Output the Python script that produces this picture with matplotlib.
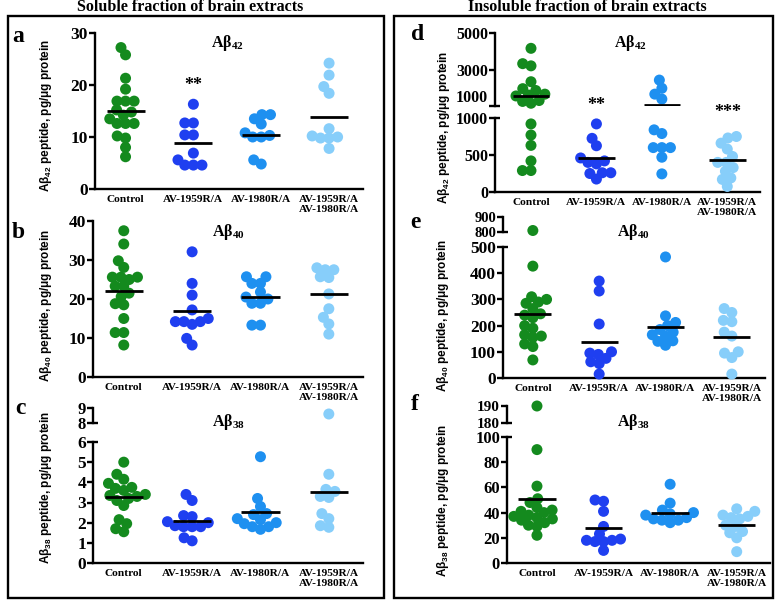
import matplotlib
matplotlib.use('Agg')
import matplotlib.pyplot as plt
from matplotlib.patches import Rectangle
import numpy as np

plt.rcParams['font.family'] = ['Liberation Serif', 'DejaVu Serif']
plt.rcParams['font.weight'] = 'bold'
plt.rcParams['mathtext.fontset'] = 'custom'
plt.rcParams['mathtext.bf'] = 'Liberation Serif:bold'
plt.rcParams['mathtext.rm'] = 'Liberation Serif:bold'
plt.rcParams['mathtext.sf'] = 'Liberation Sans:bold'

groups = ['Control', 'AV-1959R/A', 'AV-1980R/A', 'AV-1959R/A\nAV-1980R/A']
colors = ['#148a1e', '#1f3ff0', '#1e90f0', '#87cefa']

# a: soluble Abeta42
a_ctrl = [27.2, 25.8, 21.3, 19.2, 16.9, 16.9, 16.9, 15.2, 14.8, 14.2, 13.5, 12.6, 12.6, 12.6, 10.2, 9.8, 8.0, 6.2]
a_1959 = [16.3, 12.7, 12.7, 10.4, 10.4, 6.9, 5.6, 4.6, 4.6, 4.6]
a_1980 = [14.3, 14.3, 13.5, 12.5, 10.8, 10.3, 10.0, 10.0, 5.6, 4.8]
a_both = [24.2, 21.9, 19.7, 18.4, 11.6, 10.0, 9.8, 9.8, 10.2, 7.8]
a_mean = [15.0, 8.8, 10.4, 13.8]

# b: soluble Abeta40
b_ctrl = [37.5, 34.1, 29.8, 28.1, 25.6, 25.6, 25.6, 25.0, 23.3, 23.3, 21.5, 20.6, 18.8, 18.5, 15.0, 11.4, 11.4, 8.2]
b_1959 = [32.1, 24.0, 21.0, 17.2, 15.0, 14.2, 14.2, 14.2, 13.5, 9.9, 8.2]
b_1980 = [25.7, 25.7, 24.0, 24.0, 21.8, 20.5, 20.0, 18.9, 18.9, 13.3, 13.3]
b_both = [28.0, 27.5, 27.5, 25.7, 25.5, 21.3, 17.5, 15.3, 13.6, 11.0]
b_mean = [22.0, 17.0, 20.4, 21.2]

# c: soluble Abeta38
c_ctrl = [5.0, 4.4, 4.15, 3.95, 3.75, 3.7, 3.6, 3.4, 3.35, 3.3, 3.2, 3.1, 2.85, 2.15, 1.95, 1.7, 1.55]
c_1959 = [3.4, 3.1, 2.35, 2.3, 2.05, 2.0, 1.85, 1.8, 1.8, 1.8, 1.25, 1.1]
c_1980 = [5.27, 3.2, 2.8, 2.45, 2.4, 2.2, 2.15, 2.0, 1.95, 1.8, 1.8, 1.67]
c_both = [8.6, 4.4, 3.65, 3.55, 3.3, 3.25, 2.45, 2.2, 1.85, 1.77]
c_mean = [3.27, 2.08, 2.55, 3.53]

# d: insoluble Abeta42
d_ctrl = [4160, 3320, 3200, 2330, 1950, 1850, 1650, 1600, 1550, 1300, 1250, 1150, 920, 770, 630, 420, 290, 290]
d_1959 = [920, 725, 625, 460, 420, 400, 380, 260, 260, 250, 175]
d_1980 = [2420, 1970, 1650, 1380, 840, 790, 600, 600, 600, 470, 245]
d_both = [750, 730, 660, 580, 480, 400, 400, 330, 280, 190, 170, 75]
d_mean = [1564, 464, 1055, 432]

# e: insoluble Abeta40
e_ctrl = [810, 427, 310, 300, 290, 285, 265, 245, 240, 230, 200, 190, 165, 160, 155, 130, 120, 69]
e_1959 = [370, 332, 206, 100, 95, 90, 75, 62, 55, 15]
e_1980 = [462, 237, 212, 200, 185, 175, 165, 160, 142, 140, 125]
e_both = [265, 250, 220, 215, 175, 160, 100, 95, 78, 15]
e_mean = [245, 138, 195, 156]

# f: insoluble Abeta38
f_ctrl = [190, 90, 61, 51, 48, 44, 42, 41, 40, 38, 37, 36, 35, 34, 32, 30, 29, 22]
f_1959 = [50, 49, 41, 29, 23, 19, 18, 18, 17, 17, 10]
f_1980 = [62.5, 47.5, 42, 40, 39, 38, 36, 35, 34, 34, 32]
f_both = [43, 41, 38, 37, 36, 35, 30, 29, 25, 24, 20, 9]
f_mean = [50.5, 28, 40, 30]

W, H = 780, 600
DOT = 11  # dot diameter in pixels
GAP = 0.78  # dots may overlap a little, as in the original
fig = plt.figure(figsize=(W / 100, H / 100), dpi=100)


def px_ax(left, right, top, bottom):
    return fig.add_axes([left / W, 1 - bottom / H, (right - left) / W, (bottom - top) / H])


def style(ax, lim, ticks, x0, show_x, tsize):
    ax.set_xlim(x0, 3.5)
    ax.set_ylim(*lim)
    ax.set_yticks(ticks)
    ax.patch.set_visible(False)
    for s in ('top', 'right'):
        ax.spines[s].set_visible(False)
    ax.spines['left'].set_linewidth(1.7)
    ax.spines['bottom'].set_linewidth(1.7)
    ax.tick_params(axis='y', length=4, width=1.7, labelsize=tsize, pad=1)
    if show_x:
        ax.set_xticks(range(4))
        ax.set_xticklabels(groups, fontsize=8.2, linespacing=1.25)
        ax.tick_params(axis='x', length=0, pad=4)
    else:
        ax.spines['bottom'].set_visible(False)
        ax.set_xticks([])


def break_tick(ax, yval):
    w = ax.get_position().width * W
    ax.plot([0, 5 / w], [yval, yval], transform=ax.get_yaxis_transform(),
            color='k', lw=1.7, clip_on=False, solid_capstyle='butt')


def swarm(ys, d):
    xs = np.zeros(len(ys))
    placed = []
    for i in np.argsort(ys):
        y = ys[i]
        cands = [0.0]
        for px, py in placed:
            dy = y - py
            if abs(dy) < d:
                dx = np.sqrt(d * d - dy * dy)
                cands += [px - dx, px + dx]
        cands.sort(key=abs)
        for c in cands:
            if all((c - px) ** 2 + (y - py) ** 2 >= d * d - 1e-6 for px, py in placed):
                break
        xs[i] = c
        placed.append((c, y))
    return xs


def panel(letter, sub, values, means, left, right, x0, lower, upper=None,
          title_xy=None, letter_xy=None, ylab_xy=None, stars=(), tsize=12.5,
          lift=False):
    lo_top, lo_bot, lo_lim, lo_ticks = lower
    ax_lo = px_ax(left, right, lo_top, lo_bot)
    style(ax_lo, lo_lim, lo_ticks, x0, True, tsize)
    ax_hi = None
    if upper:
        hi_top, hi_bot, hi_lim, hi_ticks, hi_size = upper
        ax_hi = px_ax(left, right, hi_top, hi_bot)
        style(ax_hi, hi_lim, hi_ticks, x0, False, hi_size)
        break_tick(ax_lo, lo_lim[1])
        break_tick(ax_hi, hi_lim[0])
        if lift:
            # keep the two stacked labels at the break apart
            ax_hi.get_yticklabels()[0].set_va('bottom')

    def which(v):
        return ax_hi if (ax_hi is not None and v > lo_lim[1]) else ax_lo

    step = ax_lo.transData.transform((1, 0))[0] - ax_lo.transData.transform((0, 0))[0]
    for i, vals in enumerate(values):
        vals = np.asarray(vals, float)
        axs = [which(v) for v in vals]
        ys = np.array([a.transData.transform((i, v))[1] for a, v in zip(axs, vals)])
        offs = swarm(ys, DOT * GAP) / step
        for a in set(axs):
            m = np.array([b is a for b in axs])
            a.scatter(i + offs[m], vals[m], s=(DOT * 0.72) ** 2, color=colors[i],
                      edgecolors='none', clip_on=False, zorder=3)
        a = which(means[i])
        a.plot([i - 0.28, i + 0.28], [means[i], means[i]], color='k', lw=2,
               solid_capstyle='butt', zorder=4)

    for x, y, s in stars:
        ax_lo.text(x, y, s, ha='center', va='center', fontsize=13, clip_on=False)

    fig.text(title_xy[0] / W, 1 - title_xy[1] / H, 'Aβ$_{\\mathbf{%s}}$' % sub,
             ha='center', va='center', fontsize=11.5)
    fig.text(letter_xy[0] / W, 1 - letter_xy[1] / H, letter,
             ha='center', va='center', fontsize=17)
    fig.text(ylab_xy[0] / W, 1 - ylab_xy[1] / H,
             'Aβ$_{\\mathsf{%s}}$ peptide, pg/μg protein' % sub,
             rotation=90, ha='center', va='center', fontsize=8.5,
             family=['Liberation Sans', 'DejaVu Sans'], weight='bold')


panel('a', '42', [a_ctrl, a_1959, a_1980, a_both], a_mean, 95, 363, -0.45,
      (33, 189, (0, 30), [0, 10, 20, 30]),
      title_xy=(227, 43), letter_xy=(18, 36), ylab_xy=(46, 115),
      stars=[(1, 20, '**')])
panel('b', '40', [b_ctrl, b_1959, b_1980, b_both], b_mean, 93, 363, -0.45,
      (221, 377, (0, 40), [0, 10, 20, 30, 40]),
      title_xy=(228, 232), letter_xy=(18, 232), ylab_xy=(46, 305))
panel('c', '38', [c_ctrl, c_1959, c_1980, c_both], c_mean, 93, 363, -0.45,
      (442, 563, (0, 6), [0, 1, 2, 3, 4, 5, 6]),
      upper=(408, 423, (8, 9), [8, 9], 12),
      title_xy=(228, 422), letter_xy=(20, 408), ylab_xy=(46, 487))
panel('d', '42', [d_ctrl, d_1959, d_1980, d_both], d_mean, 495, 760, -0.55,
      (118, 192, (0, 1000), [0, 500, 1000]),
      upper=(33, 106, (1000, 5000), [1000, 3000, 5000], 11.5),
      title_xy=(630, 43), letter_xy=(418, 35), ylab_xy=(444, 127),
      stars=[(1, 1175, '**'), (3, 1072, '***')], tsize=11.5, lift=True)
panel('e', '40', [e_ctrl, e_1959, e_1980, e_both], e_mean, 503, 765, -0.45,
      (247, 378, (0, 500), [0, 100, 200, 300, 400, 500]),
      upper=(217, 232, (800, 900), [800, 900], 10.5),
      title_xy=(633, 232), letter_xy=(415, 223), ylab_xy=(443, 315))
panel('f', '38', [f_ctrl, f_1959, f_1980, f_both], f_mean, 507, 770, -0.45,
      (437, 563, (0, 100), [0, 20, 40, 60, 80, 100]),
      upper=(406, 423, (180, 190), [180, 190], 11),
      title_xy=(633, 422), letter_xy=(415, 405), ylab_xy=(443, 500), tsize=12)

# frames and column titles
for x0, x1 in [(8, 384), (394, 773)]:
    fig.add_artist(Rectangle((x0 / W, 1 - 598 / H), (x1 - x0) / W, (598 - 16) / H,
                             transform=fig.transFigure, fill=False, lw=1.7, ec='k'))
fig.text(190 / W, 1 - 7 / H, 'Soluble fraction of brain extracts',
         ha='center', va='center', fontsize=11.5)
fig.text(587 / W, 1 - 7 / H, 'Insoluble fraction of brain extracts',
         ha='center', va='center', fontsize=11.5)

fig.savefig('out.png', dpi=100)
